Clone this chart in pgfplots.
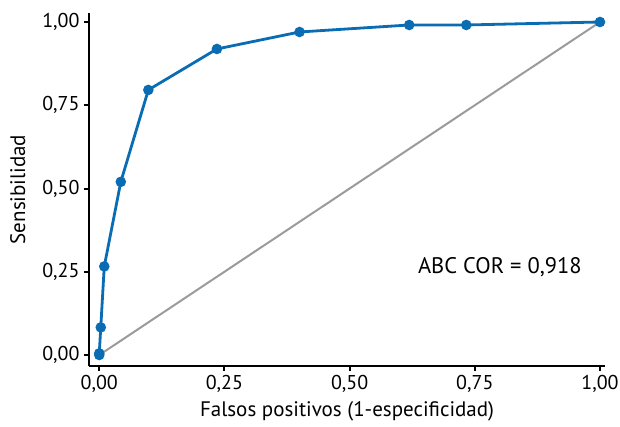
\documentclass[border=0pt]{standalone}
\usepackage{fontspec}
\setmainfont{PT Sans}
\usepackage{pgfplots}
\pgfplotsset{compat=1.18}
\definecolor{rocblue}{RGB}{10,108,178}
\definecolor{diaggray}{RGB}{155,155,155}
\newcommand{\tickfont}{\fontsize{20pt}{23pt}\selectfont}
\newcommand{\labelfont}{\fontsize{21pt}{24pt}\selectfont}
\newcommand{\annfont}{\fontsize{22.5pt}{26pt}\selectfont}
\begin{document}
\begin{tikzpicture}[x=1pt,y=1pt,font=\tickfont]
\useasboundingbox (-89,-60) rectangle (531,366);
\begin{axis}[
  at={(0,0)}, anchor=south west,
  scale only axis, width=516pt, height=353pt,
  xmin=-0.0205, xmax=1.01, ymin=-0.033, ymax=1.027,
  axis lines=left, axis line style={-, line width=2pt, black},
  tick align=outside, major tick length=5pt,
  tick style={line width=2pt, black},
  xtick={0,0.25,0.5,0.75,1}, ytick={0,0.25,0.5,0.75,1},
  /pgf/number format/.cd, use comma, fixed, fixed zerofill, precision=2, assume math mode=true,
  /pgfplots/.cd,
  ticklabel style={font=\tickfont},
  xticklabel style={yshift=-1pt},
  yticklabel style={xshift=-1pt},
  xlabel={Falsos positivos (1-especificidad)},
  ylabel={Sensibilidad},
  label style={font=\labelfont},
  xlabel style={yshift=-2pt},
  ylabel style={yshift=10pt},
  clip=false,
]
\addplot[diaggray, line width=2pt] coordinates {(0,0) (1,1)};
\addplot[rocblue, line width=2.8pt, mark=*, mark size=3.8pt, mark options={solid, fill=rocblue, draw=rocblue}] coordinates {
(0,0) (0,0.005) (0.003,0.083) (0.01,0.266) (0.043,0.52) (0.098,0.796) (0.235,0.919) (0.40,0.970) (0.619,0.991) (0.733,0.991) (1,1)};
\node[anchor=center, font=\annfont] at (axis cs:0.80,0.265) {ABC COR = 0,918};
\end{axis}
\end{tikzpicture}
\end{document}
